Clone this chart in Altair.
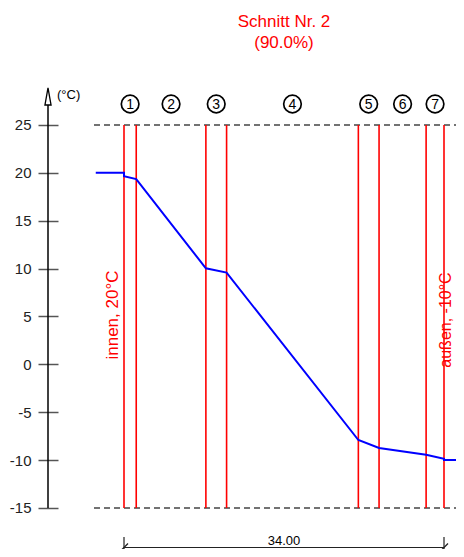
import altair as alt
import pandas as pd

# ---- data ----
bounds = [0.0, 1.3, 8.7, 10.9, 24.9, 27.1, 32.1, 34.0]          # layer boundaries (cm)
layer_labels = ["1", "2", "3", "4", "5", "6", "7"]
line_x = [-3.0, 0.0, 0.0, 1.3, 8.7, 10.9, 24.9, 27.1, 32.1, 34.0, 34.0, 36.2]
line_t = [20.0, 20.0, 19.65, 19.35, 10.03, 9.58, -7.9, -8.73, -9.43, -9.85, -10.0, -10.0]
y_ticks = [-15, -10, -5, 0, 5, 10, 15, 20, 25]
limits = [25, -15]
title_line1 = "Schnitt Nr. 2"
title_line2 = "(90.0%)"
inside_label = "innen, 20°C"
outside_label = "außen, -10°C"
unit_label = "(°C)"

FONT = "Liberation Sans, DejaVu Sans, sans-serif"
RED = "#ff0000"

PADL = 40
W = 448 - PADL
H = 541


def px(x_img):
    return x_img - 8 - PADL


def py(y_img):
    return y_img - 8


XS = alt.Scale(domain=[-8.075, 35.275], nice=False, zero=False)
YS = alt.Scale(domain=[-19.282, 37.219], nice=False, zero=False)
YAX = alt.Axis(values=y_ticks, domain=False, grid=False, tickSize=20, offset=-10,
               tickColor="#555555", tickWidth=1.5, labelFontSize=15, labelColor="#222222",
               labelPadding=7, labelFont=FONT, title="", labelExpr="datum.value + ''")


def X(f="x"):
    return alt.X(f"{f}:Q", scale=XS, axis=None)


def Y(f="y"):
    return alt.Y(f"{f}:Q", scale=YS, axis=YAX)


df_line = pd.DataFrame({"x": line_x, "y": line_t, "o": list(range(len(line_x)))})
df_bounds = pd.DataFrame({"x": bounds, "y": [limits[0]] * len(bounds), "y2": [limits[1]] * len(bounds)})
mids = [(bounds[i] + bounds[i + 1]) / 2 for i in range(len(layer_labels))]
df_layers = pd.DataFrame({"x": mids, "label": layer_labels})
df_limits = pd.DataFrame({"y": limits})
df_dim = pd.DataFrame({"x": [bounds[0]], "x2": [bounds[-1]]})
df_dim_ends = pd.DataFrame({"x": [bounds[0], bounds[-1]]})
df_dim_text = pd.DataFrame({"x": [(bounds[0] + bounds[-1]) / 2],
                            "label": [f"{bounds[-1] - bounds[0]:.2f}"]})
df_ticks = pd.DataFrame({"y": y_ticks})
one = pd.DataFrame({"k": [0]})


def label(txt, x, y, size, color, align="center", angle=0):
    return alt.Chart(one).mark_text(fontSize=size, font=FONT, align=align, baseline="middle",
                                    color=color, angle=angle, text=txt).encode(
        x=alt.value(px(x)), y=alt.value(py(y)))


base_axis = alt.Chart(df_ticks).mark_tick(opacity=0).encode(y=Y("y"))

limit_rules = alt.Chart(df_limits).mark_rule(color="#444444", strokeWidth=1.4,
                                             strokeDash=[6, 4]).encode(
    x=alt.value(px(94)), x2=alt.value(W), y=Y("y"))

bound_rules = alt.Chart(df_bounds).mark_rule(color=RED, strokeWidth=1.6).encode(
    x=X("x"), y=Y("y"), y2=alt.Y2("y2:Q"))

temp_line = alt.Chart(df_line).mark_line(color="#0000ff", strokeWidth=2).encode(
    x=X("x"), y=Y("y"), order="o:Q")

circles = alt.Chart(df_layers).mark_point(shape="circle", size=310, filled=False,
                                          color="black", strokeWidth=1.7, opacity=1).encode(
    x=X("x"), y=alt.value(py(104)))
circle_text = alt.Chart(df_layers).mark_text(fontSize=14, font=FONT, color="black",
                                             baseline="middle", align="center").encode(
    x=X("x"), y=alt.value(py(104.5)), text="label:N")

axis_line = alt.Chart(one).mark_rule(color="black", strokeWidth=1.5).encode(
    x=alt.value(px(48)), y=alt.value(py(105)), y2=alt.value(py(508)))
arrow = alt.Chart(one).mark_point(
    shape="M0,-1L0.36,1L-0.36,1Z", size=290, filled=False, color="black",
    strokeWidth=1.3, opacity=1
).encode(x=alt.value(px(48)), y=alt.value(py(96.5)))

dim_line = alt.Chart(df_dim).mark_rule(color="#222222", strokeWidth=1.2).encode(
    x=X("x"), x2=alt.X2("x2:Q"), y=alt.value(py(547.5)))
dim_ends = alt.Chart(df_dim_ends).mark_rule(color="#222222", strokeWidth=1.2).encode(
    x=X("x"), y=alt.value(py(537)), y2=alt.value(H))
dim_slash = alt.Chart(df_dim_ends).mark_point(
    shape="M-0.8,0.8L0.8,-0.8", size=100, filled=False, color="#222222",
    strokeWidth=1.3, opacity=1
).encode(x=X("x"), y=alt.value(py(547.5)))
dim_text = alt.Chart(df_dim_text).mark_text(fontSize=13, font=FONT, color="black",
                                            align="center", baseline="middle").encode(
    x=X("x"), y=alt.value(py(540.5)), text="label:N")

chart = alt.layer(
    base_axis, limit_rules, bound_rules, temp_line, circles, circle_text,
    axis_line, arrow,
    label(unit_label, 57, 95, 13, "black", align="left"),
    label(title_line1, 284, 22, 17, RED),
    label(title_line2, 284, 43, 17, RED),
    label(inside_label, 113, 315, 17, RED, angle=270),
    label(outside_label, 446, 320, 16, RED, angle=270),
    dim_line, dim_ends, dim_slash, dim_text
).properties(
    width=W, height=H,
    padding={"left": PADL, "top": 0, "right": 0, "bottom": 0},
    autosize=alt.AutoSizeParams(type="none"),
    background="white",
).configure_view(strokeWidth=0)

chart.save("out.html", embed_options={"renderer": "svg", "actions": False})
